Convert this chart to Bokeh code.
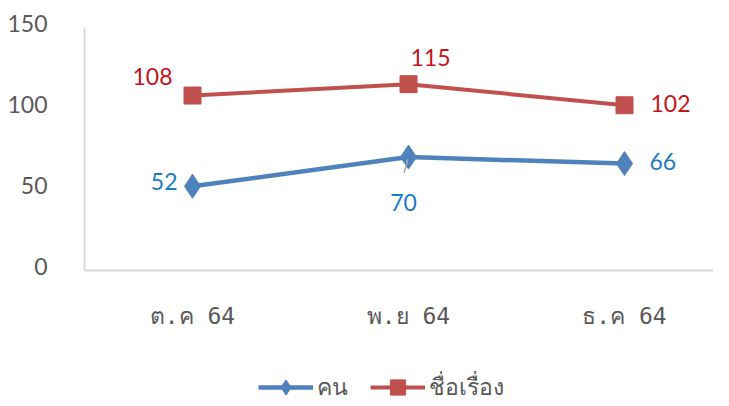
from bokeh.plotting import figure
from bokeh.models import Range1d, Legend, LegendItem, ColumnDataSource
from bokeh.embed import file_html
from bokeh.resources import INLINE
from bokeh.core.properties import value

# ---- data ----
months = ["ต.ค 64", "พ.ย 64", "ธ.ค 64"]
people = [52, 70, 66]          # คน
titles = [108, 115, 102]       # ชื่อเรื่อง
y_ticks = [0, 50, 100, 150]
series_names = ["คน", "ชื่อเรื่อง"]

# ---- styles ----
BLUE = "#4F81BD"
RED = "#C0504D"
BLUE_TXT = "#1A7CC4"
RED_TXT = "#C0161C"
GRID = "#D9D9D9"
TICK_TXT = "#595959"
NUM_FONT = "Lato"
THAI_FONT = "DejaVu Sans Mono"

xs = list(range(len(months)))
y_lo, y_hi = 0, 150
x_left = -0.5                 # category axis starts half a slot before the first month
W, H = 713, 406
px_x = 216                     # pixels per category slot
px_y = 243 / (y_hi - y_lo)     # pixels per value unit
left_px, top_px, axis_px = 84, 27, 270

# the frame covers the whole canvas; axes are drawn as glyphs inside it
xr = Range1d(x_left - left_px / px_x, x_left + (W - left_px) / px_x)
yr = Range1d(y_lo - (H - axis_px) / px_y, y_hi + top_px / px_y)
p = figure(width=W, height=H, output_backend="svg", toolbar_location=None,
           x_range=xr, y_range=yr,
           min_border_left=0, min_border_right=0, min_border_top=0,
           min_border_bottom=0)
p.outline_line_color = None
p.grid.visible = False
p.xaxis.visible = False
p.yaxis.visible = False

# axis lines
p.segment(x0=[x_left, x_left], y0=[y_lo, y_lo], x1=[x_left, xr.end], y1=[y_hi, y_lo],
          line_color=GRID, line_width=2)

# value tick labels
p.text(x=[x_left] * len(y_ticks), y=y_ticks, text=[str(t) for t in y_ticks],
       x_offset=-37, y_offset=-4, text_align="right", text_baseline="middle",
       text_color=TICK_TXT, text_font=value(NUM_FONT), text_font_size="23px")

# category labels
p.text(x=xs, y=[y_lo] * len(xs), text=months, y_offset=45, text_align="center",
       text_baseline="middle", text_color=TICK_TXT, text_font=value(THAI_FONT),
       text_font_size="23px")

# series
bl = p.line(xs, people, line_color=BLUE, line_width=4.5)
bm = p.scatter(xs, people, marker="diamond", size=24, fill_color=BLUE, line_color=BLUE)
rl = p.line(xs, titles, line_color=RED, line_width=4)
rm = p.scatter(xs, titles, marker="square", size=17, fill_color=RED, line_color=RED)

# leader line for the middle blue label
p.segment(x0=[xs[1] - 0.004], y0=[people[1] - 1.5], x1=[xs[1] - 0.02], y1=[people[1] - 10],
          line_color="#A6A6A6", line_width=1.5)

# data labels (screen offsets, y positive = down)
blue_dx = [-15, -5, 25]
blue_dy = [-5, 45, -2]
blue_align = ["right", "center", "left"]
red_dx = [-20, 2, 26]
red_dy = [-19, -27, -2]
red_align = ["right", "left", "left"]

bsrc = ColumnDataSource(dict(x=xs, y=people, t=[str(v) for v in people],
                             dx=blue_dx, dy=blue_dy, al=blue_align))
rsrc = ColumnDataSource(dict(x=xs, y=titles, t=[str(v) for v in titles],
                             dx=red_dx, dy=red_dy, al=red_align))
for src, col in ((bsrc, BLUE_TXT), (rsrc, RED_TXT)):
    p.text(x="x", y="y", text="t", source=src, x_offset="dx", y_offset="dy",
           text_align="al", text_baseline="middle", text_color=col,
           text_font=value(NUM_FONT), text_font_size="23px")

# legend
legend = Legend(items=[LegendItem(label=series_names[0], renderers=[bl, bm]),
                       LegendItem(label=series_names[1], renderers=[rl, rm])],
                orientation="horizontal", location=(258, 0),
                glyph_width=55, glyph_height=38, label_standoff=4, spacing=22,
                padding=0, margin=0, background_fill_alpha=0, border_line_color=None,
                label_text_font=THAI_FONT, label_text_font_size="23px",
                label_text_color=TICK_TXT)
p.add_layout(legend, "center")

open("out.html", "w").write(file_html(p, INLINE))
